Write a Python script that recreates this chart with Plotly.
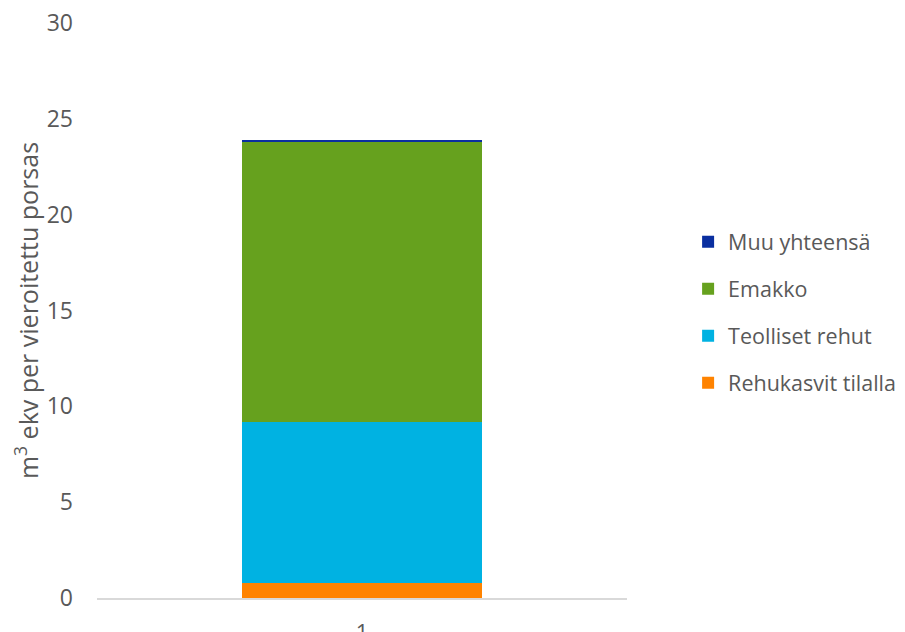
import plotly.graph_objects as go

categories = ["1"]
rehukasvit = [0.8]
teolliset = [8.4]
emakko = [14.6]
muu = [0.1]

series = [
    ("Rehukasvit tilalla", rehukasvit, "#FF8300", 4),
    ("Teolliset rehut", teolliset, "#00B2E2", 3),
    ("Emakko", emakko, "#66A11E", 2),
    ("Muu yhteensä", muu, "#0A2FA0", 1),
]

fig = go.Figure()
for name, vals, col, rank in series:
    fig.add_trace(go.Bar(
        x=categories, y=vals, name=name, marker_color=col,
        marker_line_width=0, width=0.453, legendgroup=name, legendrank=rank,
    ))

fig.update_layout(
    barmode="stack",
    width=905, height=632,
    margin=dict(l=89, r=286, t=14.5, b=41.5, autoexpand=False),
    paper_bgcolor="white", plot_bgcolor="white",
    font=dict(family="Open Sans, Noto Sans, sans-serif", size=22, color="#595959"),
    showlegend=True,
    legend=dict(
        traceorder="grouped", x=1.1153, y=0.655, xanchor="left", yanchor="top",
        font=dict(size=21.5, color="#595959"), tracegroupgap=16,
        itemwidth=30,
    ),
    yaxis=dict(
        range=[0, 30], tickvals=[0, 5, 10, 15, 20, 25, 30],
        showgrid=False, zeroline=False, showline=False, automargin=False,
        ticks="", ticklabelstandoff=23, ticklabeloverflow="allow",
        tickfont=dict(size=23, color="#595959"),
        title=dict(text="m<sup>3</sup> ekv per vieroitettu porsas",
                   font=dict(size=25, color="#595959"), standoff=4),
    ),
    xaxis=dict(
        showgrid=False, zeroline=False, showline=True, linecolor="#D9D9D9",
        linewidth=1.5, ticks="", ticklabelstandoff=14, automargin=False,
        ticklabeloverflow="allow",
        tickfont=dict(size=22, color="#595959"),
    ),
)

fig.write_html("out.html")
